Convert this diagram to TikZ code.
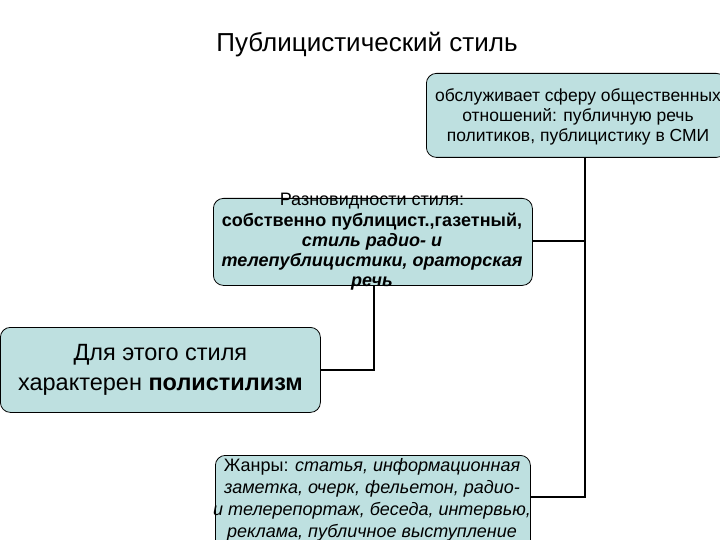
\documentclass[tikz,border=0pt]{standalone}
\usepackage{fontspec}
\setmainfont{Liberation Sans}
\definecolor{boxfill}{RGB}{190,224,224}
\begin{document}
\begin{tikzpicture}[x=1pt,y=-1pt,
  box/.style={draw=black,fill=boxfill,rounded corners=10pt,line width=0.8pt,inner sep=0pt,align=center},
  conn/.style={draw=black,line width=1.8pt}]
\useasboundingbox (0,0) rectangle (720,540);
\clip (0,0) rectangle (720,540);
\node[font=\fontsize{26}{30}\selectfont] (title) at (367,45) {Публицистический стиль};
\node[box,minimum width=300pt,minimum height=84pt,anchor=north west] (top) at (426,73) {};
\node[align=center,font=\fontsize{17.5}{20}\selectfont] (topt) at (578,117)
 {обслуживает сферу общественных\\отношений: публичную речь\\политиков, публицистику в СМИ};
\node[box,minimum width=319pt,minimum height=87pt,anchor=north west] (mid) at (213,198) {};
\node[align=center,font=\fontsize{18}{20.2}\selectfont] (midt) at (372,242) {Разновидности стиля:\\\textbf{собственно публицист.,газетный,}\\\textbf{\textit{стиль радио- и}}\\\textbf{\textit{телепублицистики, ораторская}}\\\textbf{\textit{речь}}};
\node[box,minimum width=320pt,minimum height=85pt,anchor=north west,font=\fontsize{23.5}{30}\selectfont] (left) at (0,327)
 {Для этого стиля\\характерен \textbf{полистилизм}};
\node[box,minimum width=315pt,minimum height=100pt,anchor=north west] (bot) at (215,455) {};
\node[align=center,font=\fontsize{18}{22}\selectfont] (bott) at (372,500) {Жанры: \textit{статья, информационная}\\\textit{заметка, очерк, фельетон, радио-}\\\textit{и телерепортаж, беседа, интервью,}\\\textit{реклама, публичное выступление}};
\coordinate (c1) at (585,241);
\coordinate (c2) at (585,497);
\coordinate (c3) at (374,370);
\draw[conn] (top.south -| c1) -- (c2) -- (bot.east |- c2);
\draw[conn] (mid.east |- c1) -- (c1);
\draw[conn] (mid.south -| c3) -- (c3) -- (left.east |- c3);
\end{tikzpicture}
\end{document}
